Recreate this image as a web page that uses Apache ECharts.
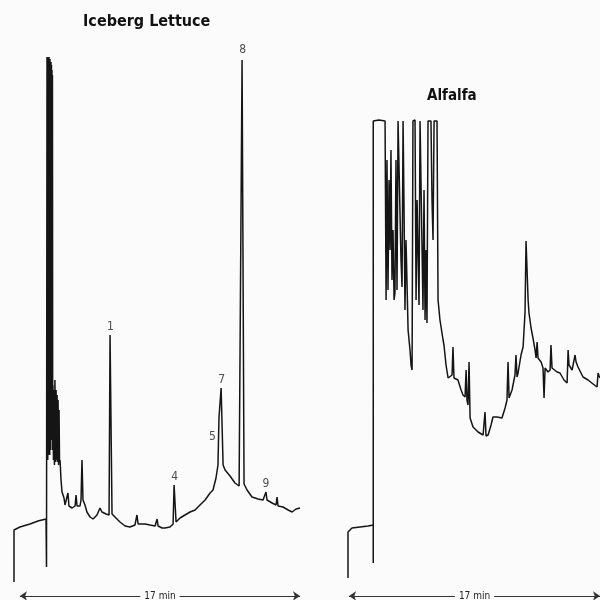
<!DOCTYPE html>
<html>
<head>
<meta charset="utf-8">
<script src="https://cdn.jsdelivr.net/npm/echarts@6/dist/echarts.min.js"></script>
<style>
html,body{margin:0;padding:0;background:#fbfbfb;}
#chart{width:600px;height:600px;}
</style>
</head>
<body>
<div id="chart"></div>
<script>
// retention time (min) / detector response
var lettuceTime = [0,0,0.36,0.97,1.45,1.94,1.97,2.00,2.015,2.03,2.045,2.06,2.075,2.09,2.105,2.12,2.135,2.15,2.165,2.18,2.195,2.21,2.225,2.24,2.255,2.27,2.285,2.30,2.315,2.33,2.345,2.36,2.39,2.42,2.45,2.48,2.52,2.55,2.58,2.61,2.64,2.67,2.70,2.73,2.76,2.79,2.85,2.91,3.03,3.09,3.21,3.27,3.33,3.52,3.70,3.76,3.82,4.00,4.06,4.12,4.18,4.30,4.42,4.61,4.79,5.03,5.21,5.33,5.58,5.76,5.82,5.88,5.94,6.12,6.42,6.73,7.03,7.33,7.45,7.52,7.94,8.24,8.55,8.67,8.73,8.97,9.15,9.45,9.64,9.70,9.76,9.82,10.06,10.36,10.67,10.97,11.27,11.58,11.88,12.06,12.24,12.36,12.42,12.48,12.55,12.61,12.67,12.79,13.09,13.39,13.64,13.76,13.82,13.88,13.94,14.12,14.42,14.79,15.09,15.27,15.33,15.64,15.88,15.94,16.00,16.30,16.61,16.85,17.09,17.33];
var lettuceResp = [8,60,63,66,69,71,23,533,140,532,130,533,135,532,150,533,140,530,135,531,150,528,140,528,160,525,150,520,170,515,140,205,130,200,125,210,128,200,130,195,128,190,125,180,127,130,110,98,92,85,85,97,84,82,84,95,84,84,90,130,90,85,78,73,71,75,82,78,76,75,255,255,76,73,68,64,63,65,75,66,66,65,64,71,64,62,62,63,66,105,105,68,72,75,78,80,85,90,97,100,112,125,172,173,202,202,125,120,114,107,104,106,530,530,106,100,93,91,90,98,90,87,85,93,84,83,80,78,81,82];

var alfalfaTime = [0,0,0.27,0.81,1.36,1.71,1.71,1.71,2.10,2.51,2.58,2.64,2.71,2.78,2.85,2.91,2.98,3.05,3.12,3.18,3.25,3.32,3.39,3.52,3.59,3.66,3.73,3.79,3.86,3.93,4.07,4.20,4.27,4.34,4.40,4.54,4.61,4.68,4.81,4.88,5.01,5.08,5.15,5.22,5.29,5.35,5.42,5.62,5.69,5.76,5.83,6.03,6.10,6.23,6.44,6.50,6.64,6.78,7.05,7.11,7.18,7.45,7.66,7.79,7.93,8.00,8.06,8.13,8.20,8.27,8.47,8.81,9.15,9.28,9.35,9.49,9.69,9.82,10.10,10.43,10.64,10.77,10.84,10.91,11.11,11.31,11.38,11.45,11.52,11.72,11.86,11.99,12.06,12.13,12.20,12.26,12.40,12.53,12.67,12.74,12.81,12.87,13.08,13.21,13.28,13.35,13.55,13.69,13.75,13.82,13.89,14.16,14.36,14.63,14.84,14.91,14.97,15.18,15.38,15.45,15.58,15.92,16.26,16.60,16.87,16.94,17.01,17.07];
var alfalfaResp = [12,58,62,63,64,65,27,469,470,469,290,430,300,410,340,440,310,360,290,297,430,300,469,469,330,303,469,390,280,350,260,240,225,220,469,470,290,390,285,469,470,280,400,270,340,267,469,469,390,350,469,469,290,270,250,245,225,212,215,243,212,210,200,195,193,220,190,185,228,172,163,158,155,178,154,155,165,173,173,172,182,190,228,192,200,215,235,213,217,235,243,277,349,349,290,277,262,252,240,232,248,232,228,222,192,222,218,220,245,222,220,218,217,210,207,240,225,220,235,228,223,213,210,206,203,217,214,212];

var peakNames = ['1','4','5','7','8','9'];
var peakTimes = [5.85,9.73,12.45,12.58,13.85,15.27];
var peakHeights = [255,105,173,202,532,98];

var runLength = 17; // min, shown by the arrows

function pairs(xs, ys) {
	var out = [];
	for (var i = 0; i < xs.length; i++) {
		out.push([xs[i], ys[i]]);
	}
	return out;
}

var ink = '#151515';
var narrow = '"Liberation Sans Narrow", "DejaVu Sans Condensed", Arial, sans-serif';

function arrowLine(x0, x1) {
	return {
		silent: true,
		symbol: ['arrow', 'arrow'],
		symbolSize: 7,
		lineStyle: { color: '#333', type: 'solid', width: 1 },
		label: {
			show: true,
			position: 'middle',
			distance: 0,
			verticalAlign: 'middle',
			formatter: runLength + ' min',
			color: '#222',
			fontSize: 10,
			fontFamily: narrow,
			backgroundColor: '#fbfbfb',
			padding: [0, 4]
		},
		data: [[{ coord: [x0, -6] }, { coord: [x1, -6] }]]
	};
}

var peakData = [];
for (var i = 0; i < peakNames.length; i++) {
	var item = { name: peakNames[i], value: [peakTimes[i], peakHeights[i]] };
	if (peakNames[i] === '5') {
		item.label = { position: 'left', distance: 3, offset: [0, 20] };
	}
	peakData.push(item);
}

var chart = echarts.init(document.getElementById('chart'));
var option = {
	animation: false,
	backgroundColor: '#fbfbfb',
	title: [{
		text: 'Iceberg Lettuce',
		left: 83, top: 14, padding: 0,
		textStyle: { fontFamily: narrow, fontWeight: 'bold', fontSize: 16, color: '#111' }
	}, {
		text: 'Alfalfa',
		left: 427, top: 89, padding: 0,
		textStyle: { fontFamily: narrow, fontWeight: 'bold', fontSize: 15, color: '#111' }
	}],
	grid: [
		{ left: 14, right: 300, top: 50, bottom: 0 },
		{ left: 348, right: 0, top: 50, bottom: 0 }
	],
	xAxis: [
		{ type: 'value', gridIndex: 0, min: 0, max: 17.33, show: false },
		{ type: 'value', gridIndex: 1, min: 0, max: 17.07, show: false }
	],
	yAxis: [
		{ type: 'value', gridIndex: 0, min: -10, max: 540, show: false },
		{ type: 'value', gridIndex: 1, min: -10, max: 540, show: false }
	],
	series: [{
		name: 'Iceberg Lettuce',
		type: 'line',
		xAxisIndex: 0, yAxisIndex: 0,
		data: pairs(lettuceTime, lettuceResp),
		showSymbol: false,
		symbol: 'none',
		smooth: false,
		clip: false,
		lineStyle: { color: ink, width: 1.5 },
		markLine: arrowLine(0.36, 17.33)
	}, {
		name: 'Alfalfa',
		type: 'line',
		xAxisIndex: 1, yAxisIndex: 1,
		data: pairs(alfalfaTime, alfalfaResp),
		showSymbol: false,
		symbol: 'none',
		smooth: false,
		clip: false,
		lineStyle: { color: ink, width: 1.5 },
		markLine: arrowLine(0.07, 17.07)
	}, {
		name: 'peaks',
		type: 'scatter',
		xAxisIndex: 0, yAxisIndex: 0,
		data: peakData,
		symbolSize: 1,
		itemStyle: { color: 'rgba(0,0,0,0)' },
		label: {
			show: true,
			position: 'top',
			distance: 2,
			formatter: '{b}',
			color: '#222',
			fontSize: 12,
			fontFamily: narrow
		}
	}]
};
chart.setOption(option);
</script>
</body>
</html>
